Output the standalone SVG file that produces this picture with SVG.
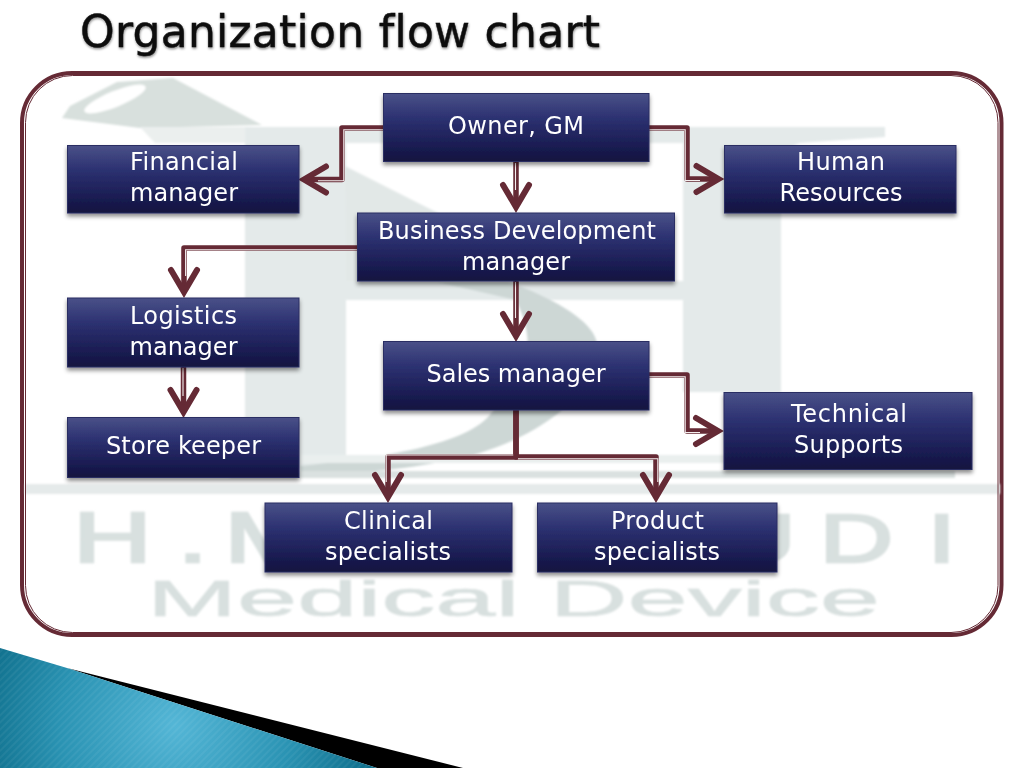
<svg xmlns="http://www.w3.org/2000/svg" width="1024" height="768" viewBox="0 0 1024 768">
<style>
.box{fill:url(#boxFill);stroke:#2b2f63;stroke-width:1;filter:url(#boxShadow)}
.lbl{font-family:"DejaVu Sans","Liberation Sans",sans-serif;font-size:24px;fill:#fff;text-anchor:middle}
.wire{fill:none;stroke:#652a35;stroke-width:5.5;stroke-linejoin:round}
.arrow{marker-end:url(#chev)}
.hi{fill:none;stroke:#f4eeee;stroke-width:1.1}
.frame{fill:none;stroke:#652a35}
.wm{font-family:"Liberation Sans",Arial,sans-serif;fill:#d8e0df;stroke:#d8e0df}
</style>
<defs>
<linearGradient id="boxFill" x1="0" y1="0" x2="0" y2="1">
<stop offset="0" stop-color="#4a5188"/><stop offset="0.35" stop-color="#2d3272"/><stop offset="0.8" stop-color="#191b50"/><stop offset="1" stop-color="#13143f"/>
</linearGradient>
<radialGradient id="wedge" gradientUnits="userSpaceOnUse" cx="175" cy="725" r="210">
<stop offset="0" stop-color="#54b6d6"/><stop offset="0.55" stop-color="#2a93b3"/><stop offset="1" stop-color="#0b6a86"/>
</radialGradient>
<pattern id="stripes" width="5" height="5" patternUnits="userSpaceOnUse" patternTransform="rotate(45)">
<rect width="2" height="5" fill="#fff" opacity="0.05"/>
</pattern>
<filter id="boxShadow" x="-5%" y="-10%" width="110%" height="125%"><feDropShadow dx="0" dy="3" stdDeviation="2" flood-color="#000" flood-opacity="0.45"/></filter>
<filter id="titleShadow" x="-5%" y="-20%" width="110%" height="150%"><feDropShadow dx="0.5" dy="1.5" stdDeviation="1" flood-color="#000" flood-opacity="0.45"/></filter>
<filter id="soft" x="-2%" y="-2%" width="104%" height="104%"><feGaussianBlur stdDeviation="1.2"/></filter>
<marker id="chev" markerUnits="userSpaceOnUse" viewBox="-34 -18 36 36" markerWidth="36" markerHeight="36" refX="-6" refY="0" orient="auto">
<path d="M-28,-13 L-6,0 L-28,13" fill="none" stroke="#652a35" stroke-width="6" stroke-linecap="round" stroke-linejoin="miter"/>
</marker>
</defs>
<rect width="1024" height="768" fill="#fff"/>
<text x="80" y="47" font-family="'DejaVu Sans','Liberation Sans',sans-serif" font-size="44" fill="#111" stroke="#111" stroke-width="0.5" style="font-variant-ligatures:none" textLength="520" filter="url(#titleShadow)">Organization flow chart</text>
<g id="frame">
<rect x="22" y="73" width="979.5" height="562" rx="50" class="frame" stroke-width="4"/>
</g>
<g id="watermark" filter="url(#soft)">
<path d="M62,118 L70,106 L117,82 L173,78 L262,125 L140,128 Z" fill="#d8e0dd"/>
<ellipse cx="115" cy="99" rx="33" ry="8" transform="rotate(-22 115 99)" fill="#fff"/>
<path d="M140,127 H245 V143 H155 Z" fill="#ebefee"/>
<path d="M245,127 H885 V137 L800,143 L781,150 V392 H683 V300 H346 V470 H245 Z" fill="#e4eaea"/>
<path d="M346,143 H683 V281 H346 Z" fill="#fff"/>
<path d="M345,166 L440,214 V281 H346 Z" fill="#e2e8e7"/>
<path d="M437,282 L508,282 C560,300 597,325 597,345 C597,392 545,435 470,456 C400,472 340,475 300,471 L300,466 C380,458 470,445 492,412 C525,380 540,350 516,300 Z" fill="#cdd7d5"/>
<rect x="300" y="455" width="650" height="8" fill="#eaefee"/>
<rect x="230" y="471" width="725" height="7" fill="#dae1e0"/>
<rect x="25" y="484" width="975" height="10" fill="#e5eaea"/>
<text class="wm" stroke-width="2.5" transform="translate(73 562) scale(1.56 1)" font-size="70" x="0 67 97">H.M</text>
<text class="wm" stroke-width="2.5" transform="translate(722 562) scale(1.5 1)" font-size="68" x="0 65 137">UDI</text>
<text class="wm" stroke-width="0.6" x="147" y="616" font-size="50" textLength="733" lengthAdjust="spacingAndGlyphs">Medical Device</text>
</g>
<rect x="25.5" y="75.5" width="972.5" height="557" rx="47" class="frame" stroke-width="1"/>
<g id="wedges">
<path d="M67,668 L463,768 H377 Z" fill="#000"/>
<path d="M0,648 L67,668 L377,768 H0 Z" fill="url(#wedge)"/>
<path d="M0,648 L67,668 L377,768 H0 Z" fill="url(#stripes)"/>
</g>
<g id="connectors">
<path class="wire arrow" d="M384,128 H342 V179.5 H304"/>
<path class="hi" d="M384,129.8 H343.8 V180.8 H318"/>
<path class="wire arrow" d="M649,128 H687 V179 H718.500"/>
<path class="hi" d="M649,129.8 H685.2 V180.5 H700"/>
<path class="wire arrow" d="M516,162 V207"/>
<path class="hi" d="M515.5,163 V190"/>
<path class="wire arrow" d="M358,248 H184 V292"/>
<path class="hi" d="M358,249.8 H185.6 V276"/>
<path class="wire arrow" d="M183.5,367 V412"/>
<path class="hi" d="M183,368 V396"/>
<path class="wire arrow" d="M516,281 V336"/>
<path class="hi" d="M515.5,282 V318"/>
<path class="wire arrow" d="M649,375 H687 V431 H718"/>
<path class="hi" d="M649,376.8 H685.2 V432.5 H700"/>
<path class="wire arrow" d="M516,410 V457 H388 V497"/>
<path class="hi" d="M514,455 H386.2 V482"/>
<path class="wire arrow" d="M516,410 V457 H656 V497"/>
<path class="hi" d="M518,458.8 H657.8 V482"/>
</g>
<g id="n-owner"><rect class="box" x="383.5" y="93.5" width="265.5" height="68"/><text class="lbl" x="516" y="134" textLength="136">Owner, GM</text></g>
<g id="n-financial"><rect class="box" x="67.5" y="145.5" width="231.5" height="67.5"/><text class="lbl" x="184" y="170" textLength="108">Financial</text><text class="lbl" x="184" y="201" textLength="108">manager</text></g>
<g id="n-human"><rect class="box" x="724.5" y="145.5" width="231.5" height="67.5"/><text class="lbl" x="841" y="170" textLength="88">Human</text><text class="lbl" x="841" y="201" textLength="123">Resources</text></g>
<g id="n-bd"><rect class="box" x="357.5" y="213" width="317" height="68"/><text class="lbl" x="517" y="239" textLength="278">Business Development</text><text class="lbl" x="516" y="270" textLength="108">manager</text></g>
<g id="n-logistics"><rect class="box" x="67.5" y="298" width="231.5" height="69"/><text class="lbl" x="183.5" y="324" textLength="107">Logistics</text><text class="lbl" x="183.5" y="355" textLength="108">manager</text></g>
<g id="n-store"><rect class="box" x="67.5" y="417.5" width="231.5" height="60"/><text class="lbl" x="183.5" y="454" textLength="155">Store keeper</text></g>
<g id="n-sales"><rect class="box" x="383.5" y="341.5" width="265.5" height="68.5"/><text class="lbl" x="516" y="382" textLength="179">Sales manager</text></g>
<g id="n-technical"><rect class="box" x="724" y="392.5" width="248" height="77"/><text class="lbl" x="849" y="422" textLength="116">Technical</text><text class="lbl" x="848.5" y="453" textLength="109">Supports</text></g>
<g id="n-clinical"><rect class="box" x="265" y="503" width="247" height="69"/><text class="lbl" x="388.5" y="529" textLength="89">Clinical</text><text class="lbl" x="388" y="560" textLength="126">specialists</text></g>
<g id="n-product"><rect class="box" x="537.5" y="503" width="239.5" height="69"/><text class="lbl" x="657.5" y="529" textLength="93">Product</text><text class="lbl" x="657" y="560" textLength="126">specialists</text></g>
</svg>
